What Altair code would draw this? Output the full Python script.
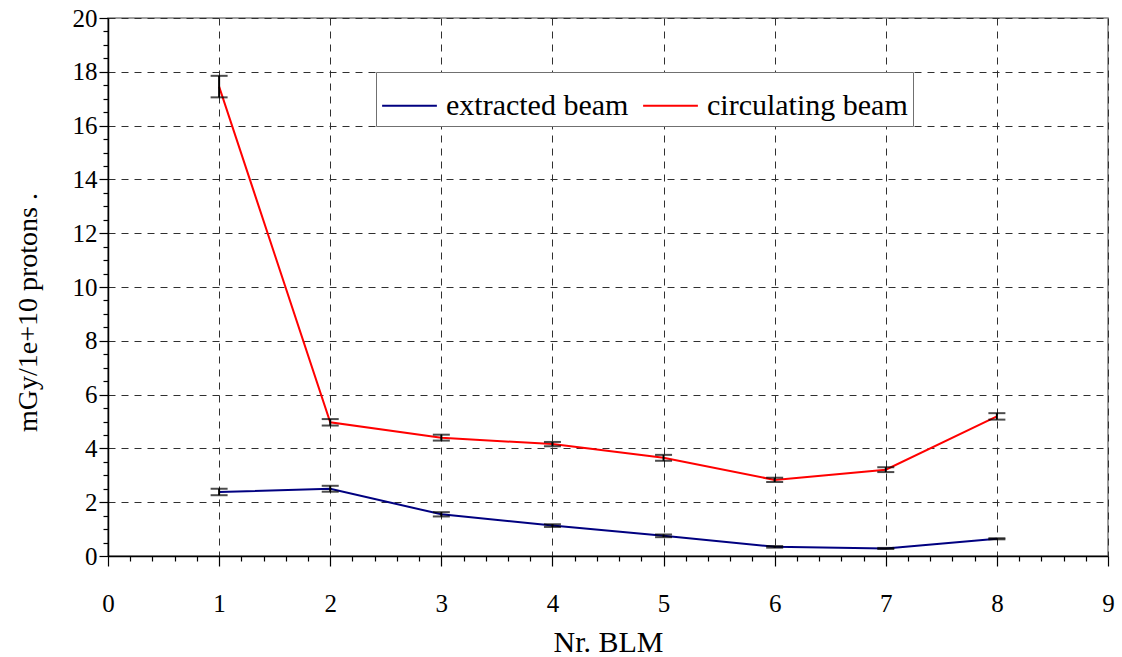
import altair as alt
import pandas as pd

blm = [1, 2, 3, 4, 5, 6, 7, 8]
extracted = [2.38, 2.50, 1.55, 1.13, 0.75, 0.34, 0.28, 0.64]
extracted_err = [0.12, 0.11, 0.08, 0.05, 0.05, 0.03, 0.02, 0.02]
circulating = [17.45, 4.97, 4.40, 4.16, 3.65, 2.83, 3.21, 5.19]
circulating_err = [0.40, 0.12, 0.11, 0.08, 0.11, 0.08, 0.09, 0.12]
series_names = ["extracted beam", "circulating beam"]
series_colors = ["#000080", "#FF0000"]

x_ticks = [round(i * 0.2, 1) for i in range(46)]
y_ticks = [round(i * 0.5, 1) for i in range(41)]

rows = []
for name, vals, errs in [(series_names[0], extracted, extracted_err),
                         (series_names[1], circulating, circulating_err)]:
    for b, v, e in zip(blm, vals, errs):
        rows.append({"BLM": b, "value": v, "lo": v - e, "hi": v + e, "series": name})
df = pd.DataFrame(rows)

FONT = "Liberation Serif"
major_x = "abs(datum.value - round(datum.value)) < 0.01"
major_y = "abs(datum.value/2 - round(datum.value/2)) < 0.01"

x_scale = alt.Scale(domain=[0, 9], nice=False)
y_scale = alt.Scale(domain=[0, 20], nice=False)

x_axis = alt.Axis(
    values=x_ticks,
    title="Nr. BLM",
    titleFont=FONT, titleFontSize=30, titleFontWeight="normal", titleColor="black",
    titleX=500, titleY=86, titleBaseline="middle",
    labelFont=FONT, labelFontSize=25, labelColor="black",
    labelExpr=f"{major_x} ? format(datum.value, 'd') : ''",
    labelPadding=25, labelFlush=False, labelOverlap=False,
    tickColor="black",
    tickSize={"condition": {"test": major_x, "value": 10}, "value": 5},
    tickWidth=1.2,
    domainColor="black", domainWidth=1.5,
    grid=True, gridColor="#303030", gridDash=[7, 6], gridWidth=1,
    gridOpacity={"condition": {"test": major_x, "value": 1}, "value": 0},
)
y_axis = alt.Axis(
    values=y_ticks,
    title="mGy/1e+10 protons .",
    titleFont=FONT, titleFontSize=28, titleFontWeight="normal", titleColor="black",
    titleX=-80, titleY=294, titleAngle=270, titleAlign="center", titleBaseline="middle",
    labelFont=FONT, labelFontSize=25, labelColor="black",
    labelExpr=f"{major_y} ? format(datum.value, 'd') : ''",
    labelPadding=2, labelFlush=False, labelOverlap=False,
    tickColor="black",
    tickSize={"condition": {"test": major_y, "value": 9}, "value": 5},
    tickWidth=1.2,
    domainColor="black", domainWidth=1.5,
    grid=True, gridColor="#303030", gridDash=[7, 6], gridWidth=1,
    gridOpacity={"condition": {"test": major_y, "value": 1}, "value": 0},
)

color_enc = alt.Color(
    "series:N",
    scale=alt.Scale(domain=series_names, range=series_colors),
    legend=alt.Legend(
        title=None, orient="none", legendX=268, legendY=54, direction="horizontal",
        fillColor="white", strokeColor="#707070", padding=5,
        symbolType="stroke", symbolSize=3000, symbolStrokeWidth=2,
        labelFont=FONT, labelFontSize=30, labelColor="black",
        columnPadding=10, labelOffset=8, labelLimit=400,
    ),
)

X = alt.X("BLM:Q", scale=x_scale, axis=x_axis)

base = alt.Chart(df)
lines = base.mark_line(strokeWidth=2, clip=True).encode(
    x=X,
    y=alt.Y("value:Q", scale=y_scale, axis=y_axis),
    color=color_enc,
    detail="series:N",
)
bars = base.mark_rule(color="black", strokeWidth=2).encode(
    x=X, y=alt.Y("lo:Q", scale=y_scale, axis=y_axis), y2="hi:Q"
)
cap_lo = base.mark_tick(color="black", thickness=2, size=17, orient="horizontal").encode(
    x=X, y=alt.Y("lo:Q", scale=y_scale, axis=y_axis)
)
cap_hi = base.mark_tick(color="black", thickness=2, size=17, orient="horizontal").encode(
    x=X, y=alt.Y("hi:Q", scale=y_scale, axis=y_axis)
)

chart = alt.layer(lines, bars, cap_lo, cap_hi).properties(
    width=1000, height=538,
    autosize=alt.AutoSizeParams(type="none"),
    padding={"left": 108, "top": 18, "right": 14, "bottom": 101},
    background="white",
).configure_view(stroke="#808080", strokeWidth=1.5)

chart.save("out.html", embed_options={"renderer": "svg", "actions": False})
